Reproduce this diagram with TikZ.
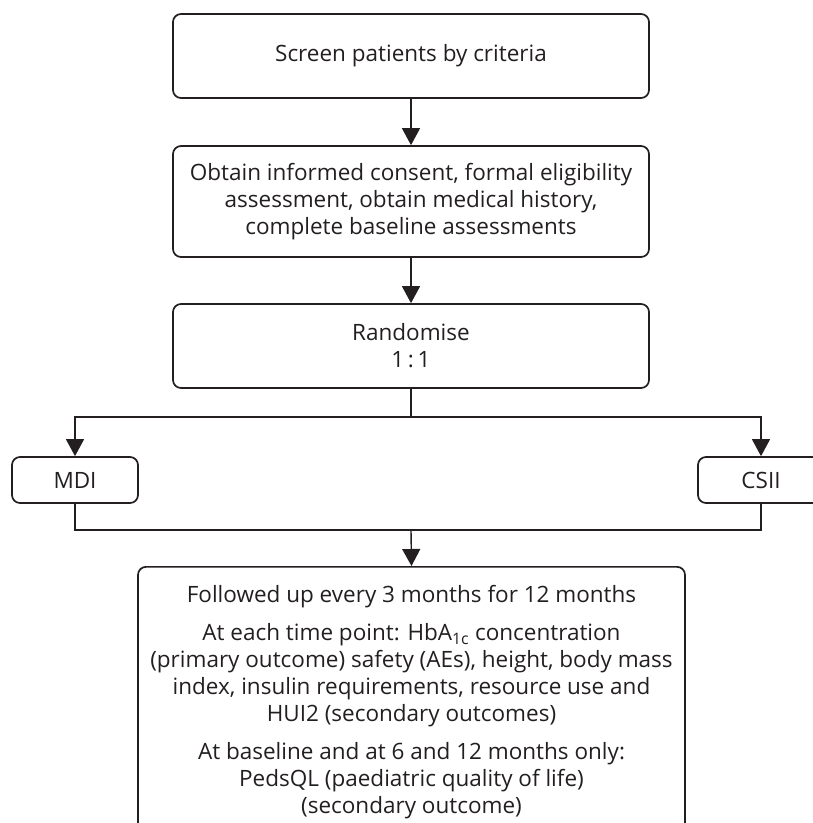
\documentclass[tikz,border=0pt]{standalone}
\usepackage{fontspec}
\setmainfont{Open Sans}
\usepackage{tikz}
\usetikzlibrary{arrows.meta}
\definecolor{ink}{HTML}{231F20}
\tikzset{
box/.style = {rectangle, draw=ink, rounded corners=8pt, line width=1.7pt,
              align=center, text=ink, minimum width=#1},
box/.default = 476pt % width of the main column boxes
}
\tikzset{
flow/.style = {draw=ink, line width=1.4pt, -{Triangle[length=17pt,width=18pt]}},
link/.style = {draw=ink, line width=1.4pt}
}

\begin{document}
\begin{tikzpicture}[x=1pt, y=1pt, font=\fontsize{22.5}{27}\selectfont]
    \useasboundingbox (0,0) rectangle (813,-823);

    \node[box, minimum height=84pt] (screenBox) at (411,-56) {Screen patients by criteria};
    \node[box, minimum height=111pt] (consentBox) at (411,-201.5)
        {Obtain informed consent, formal eligibility\\ assessment, obtain medical history,\\ complete baseline assessments};
    \node[box, minimum height=84pt] (randBox) at (411,-346) {Randomise\\ 1\,:\,1};

    \node[box=126pt, minimum height=46pt] (mdiBox) at (75,-480) {MDI};
    \node[box=126pt, minimum height=46pt] (csiiBox) at (761,-480) {CSII};

    \node[box=547pt, anchor=north, inner ysep=18pt] (followBox) at (411.5,-566)
        {Followed up every 3 months for 12 months\\[11pt]
         At each time point: HbA\textsubscript{1c} concentration\\
         (primary outcome) safety (AEs), height, body mass\\
         index, insulin requirements, resource use and\\
         HUI2 (secondary outcomes)\\[11pt]
         At baseline and at 6 and 12 months only:\\
         PedsQL (paediatric quality of life)\\
         (secondary outcome)\\ \strut};

    \coordinate (splitPoint) at (411,-417);
    \coordinate (joinPoint) at (411,-530);

    \draw[flow] (screenBox) -- (consentBox);
    \draw[flow] (consentBox) -- (randBox);
    \draw[link] (randBox.south) -- (splitPoint);
    \draw[flow] (splitPoint) -| (mdiBox.north);
    \draw[flow] (splitPoint) -| (csiiBox.north);
    \draw[link] (mdiBox.south) |- (joinPoint);
    \draw[link] (csiiBox.south) |- (joinPoint);
    \draw[flow] (joinPoint) -- (followBox.north);
  \end{tikzpicture}
\end{document}
